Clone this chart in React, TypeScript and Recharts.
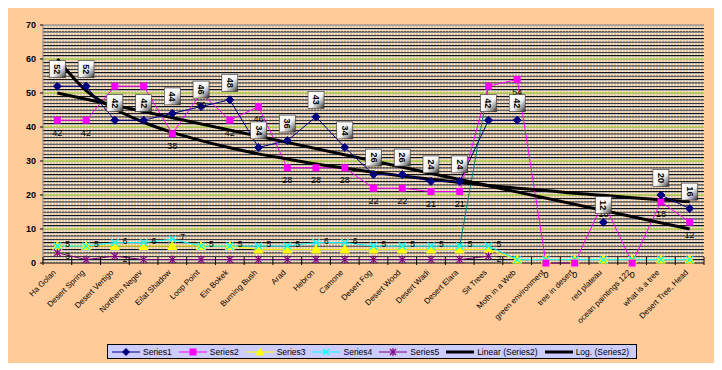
import { LineChart, Line, XAxis, YAxis, CartesianGrid, ReferenceLine, LabelList } from 'recharts';

const categories = [
  'Ha Golan', 'Desert Spring', 'Desert Vertigo', 'Northern Negev', 'Eilat Shadow', 'Loop Point',
  'Ein Bokek', 'Burning Bush', 'Arad', 'Hebron', 'Camone', 'Desert Fog', 'Desert Wood', 'Desert Wadi',
  'Desert Elara', 'Sit Trees', 'Moth in a Web', 'green environment', 'tree in desert', 'red plateau',
  'ocean paintings 122', 'what is a tree', 'Desert Tree, Head',
];

const series1 = [52, 52, 42, 42, 44, 46, 48, 34, 36, 43, 34, 26, 26, 24, 24, 42, 42, null, null, 12, null, 20, 16];
const series2 = [42, 42, 52, 52, 38, 50, 42, 46, 28, 28, 28, 22, 22, 21, 21, 52, 54, 0, 0, 18, 0, 18, 12];
const series3 = [5, 5, 5, 5, 5, 5, 5, 4, 4, 4, 4, 4, 4, 4, 4, 4, 1, 1, 1, 1, 1, 1, 1];
const series4 = [5, 5, 6, 6, 7, 5, 5, 5, 5, 6, 6, 5, 5, 5, 5, 5, 1, 1, 1, 1, 1, 1, 1];
const series5 = [3, 1, 2, 1, 1, 1, 1, 1, 1, 1, 1, 1, 1, 1, 1, 2, null, null, null, null, null, null, null];
// teal segment running up to the Sit Trees point
const tealSegment = [null, null, null, null, null, null, null, null, null, null, null, null, null, null, 5, 52, null, null, null, null, null, null, null];
// trendlines of Series2
const linearTrend = [50, null, null, null, null, null, null, null, null, null, null, null, null, null, null, null, null, null, null, null, null, null, 10];
const logTrend = [60, 50.7, 45.3, 41.4, 38.4, 36, 33.9, 32.1, 30.6, 29.1, 27.9, 26.7, 25.6, 24.6, 23.7, 22.8, 22, 21.3, 20.5, 19.9, 19.2, 18.6, 18];

const yTicks = [0, 10, 20, 30, 40, 50, 60, 70];

const data = categories.map((name, i) => ({
  name,
  s1: series1[i],
  s2: series2[i],
  s3: series3[i],
  s4: series4[i],
  s5: series5[i],
  teal: tealSegment[i],
  lin: linearTrend[i],
  log: logTrend[i],
}));

const minorLines: number[] = [];
const dotLines: number[] = [];
for (let v = 1; v < 70; v++) {
  if (v % 10 !== 0) minorLines.push(v);
}
for (let v = 0; v < 70; v++) dotLines.push(v + 0.35);

const FONT = '"Liberation Sans", Arial, sans-serif';

const ok = (p: any) => p.cx != null && p.cy != null && p.value != null && !Number.isNaN(p.cy);

const Diamond = (p: any) =>
  ok(p) ? <polygon key={p.key} points={`${p.cx},${p.cy - 4} ${p.cx + 4},${p.cy} ${p.cx},${p.cy + 4} ${p.cx - 4},${p.cy}`} fill="#000080" stroke="#000080" /> : <g key={p.key} />;
const Square = (p: any) =>
  ok(p) ? <rect key={p.key} x={p.cx - 3.5} y={p.cy - 3.5} width={7} height={7} fill="#FF00FF" /> : <g key={p.key} />;
const Triangle = (p: any) =>
  ok(p) ? <polygon key={p.key} points={`${p.cx},${p.cy - 4.5} ${p.cx + 4.5},${p.cy + 3.5} ${p.cx - 4.5},${p.cy + 3.5}`} fill="#FFFF00" stroke="#FFFF00" /> : <g key={p.key} />;
const Cross = (p: any) =>
  ok(p) ? (
    <g key={p.key} stroke="#00FFFF" strokeWidth={1.2}>
      <line x1={p.cx - 3.5} y1={p.cy - 3.5} x2={p.cx + 3.5} y2={p.cy + 3.5} />
      <line x1={p.cx - 3.5} y1={p.cy + 3.5} x2={p.cx + 3.5} y2={p.cy - 3.5} />
    </g>
  ) : <g key={p.key} />;
const Star = (p: any) =>
  ok(p) ? (
    <g key={p.key} stroke="#800080" strokeWidth={1.2}>
      <line x1={p.cx - 3.5} y1={p.cy - 3.5} x2={p.cx + 3.5} y2={p.cy + 3.5} />
      <line x1={p.cx - 3.5} y1={p.cy + 3.5} x2={p.cx + 3.5} y2={p.cy - 3.5} />
      <line x1={p.cx} y1={p.cy - 4} x2={p.cx} y2={p.cy + 4} />
    </g>
  ) : <g key={p.key} />;

const BoxLabel = (p: any) => {
  if (p.value == null) return null;
  const cx = p.x;
  const cy = p.y - 17;
  return (
    <g>
      <rect x={cx - 8} y={cy - 8.5} width={16} height={17} fill="url(#boxShade)" stroke="#303030" strokeWidth={0.6} />
      <text x={cx} y={cy} transform={`rotate(90, ${cx}, ${cy})`} textAnchor="middle" dominantBaseline="central" fontSize={9} fontWeight="bold" fontFamily={FONT} fill="#000">
        {p.value}
      </text>
    </g>
  );
};

// small side labels, only for values above 1 (the 1s vanish under the lines)
const sideLabel = (shift: number) => (p: any) => {
  if (p.value == null || p.value <= 1) return null;
  return (
    <text x={p.x + 8} y={p.y + shift} dominantBaseline="central" fontSize={8.5} fontFamily={FONT} fill="#000">
      {p.value}
    </text>
  );
};

const CatTick = (p: any) => {
  const half = p.width / p.visibleTicksCount / 2;
  const ax = p.x - 1;
  const ay = p.y + 10;
  return (
    <g>
      <line x1={p.x - half} y1={p.y - 6} x2={p.x - half} y2={p.y + 2} stroke="#000" />
      {p.index === p.visibleTicksCount - 1 && <line x1={p.x + half} y1={p.y - 6} x2={p.x + half} y2={p.y + 2} stroke="#000" />}
      <text x={ax} y={ay} transform={`rotate(-45, ${ax}, ${ay})`} textAnchor="end" fontSize={8} fontFamily={FONT} fill="#000">
        {p.payload.value}
      </text>
    </g>
  );
};

const legendItems = [
  { name: 'Series1', color: '#000080', mark: 'diamond' },
  { name: 'Series2', color: '#FF00FF', mark: 'square' },
  { name: 'Series3', color: '#FFFF00', mark: 'triangle' },
  { name: 'Series4', color: '#00FFFF', mark: 'cross' },
  { name: 'Series5', color: '#800080', mark: 'star' },
  { name: 'Linear (Series2)', color: '#000000', mark: 'thick' },
  { name: 'Log. (Series2)', color: '#000000', mark: 'thick' },
];

function LegendIcon({ color, mark }: { color: string; mark: string }) {
  const c = 14, m = 5;
  return (
    <svg width={28} height={10} style={{ display: 'block' }}>
      <line x1={0} y1={m} x2={28} y2={m} stroke={color} strokeWidth={mark === 'thick' ? 3 : 1} />
      {mark === 'diamond' && <polygon points={`${c},${m - 4} ${c + 4},${m} ${c},${m + 4} ${c - 4},${m}`} fill={color} />}
      {mark === 'square' && <rect x={c - 3.5} y={m - 3.5} width={7} height={7} fill={color} />}
      {mark === 'triangle' && <polygon points={`${c},${m - 4.5} ${c + 4.5},${m + 3.5} ${c - 4.5},${m + 3.5}`} fill={color} />}
      {(mark === 'cross' || mark === 'star') && (
        <g stroke={color} strokeWidth={1.2}>
          <line x1={c - 3} y1={m - 3} x2={c + 3} y2={m + 3} />
          <line x1={c - 3} y1={m + 3} x2={c + 3} y2={m - 3} />
          {mark === 'star' && <line x1={c} y1={m - 4} x2={c} y2={m + 4} />}
        </g>
      )}
    </svg>
  );
}

export default function App() {
  return (
    <div style={{ position: 'relative', width: 708, height: 356, background: '#FFCC99', margin: '-1px 0 0 -1px', fontFamily: FONT }}>
      <LineChart width={708} height={356} data={data} margin={{ top: 18, right: 11, left: 6, bottom: 0 }}>
        <defs>
          <linearGradient id="boxShade" x1="0" y1="0" x2="1" y2="1">
            <stop offset="0%" stopColor="#FFFFFF" />
            <stop offset="55%" stopColor="#F4F4F4" />
            <stop offset="80%" stopColor="#909090" />
            <stop offset="100%" stopColor="#202020" />
          </linearGradient>
        </defs>
        <CartesianGrid fill="#C0C0C0" stroke="#000" vertical={false} horizontalValues={minorLines} />
        <CartesianGrid stroke="#FFCC99" strokeWidth={1.3} vertical={false} horizontalValues={dotLines} />
        <CartesianGrid stroke="#FFFFFF" strokeWidth={1.3} strokeDasharray="1 2" vertical={false} horizontalValues={dotLines} />
        {[10, 20, 30, 40, 50, 60].map(v => (
          <ReferenceLine key={v} y={v} stroke="#99CC00" />
        ))}
        <ReferenceLine y={70} stroke="#808080" />
        <XAxis dataKey="name" scale="band" interval={0} height={100} tickSize={0} tickMargin={0} tickLine={false} axisLine={{ stroke: '#000' }} tick={<CatTick />} />
        <YAxis domain={[0, 70]} ticks={yTicks} interval={0} width={30} tickSize={3} tickMargin={4} axisLine={{ stroke: '#808080' }} tickLine={{ stroke: '#000' }} tick={{ fontSize: 9, fontWeight: 'bold', fill: '#000', fontFamily: FONT }} />
        <YAxis yAxisId="r" orientation="right" domain={[0, 70]} width={0} tick={false} tickLine={false} axisLine={{ stroke: '#808080' }} />

        <Line dataKey="s3" stroke="#FFFF00" strokeWidth={1} dot={Triangle} activeDot={false} isAnimationActive={false} />
        <Line dataKey="s4" stroke="#00FFFF" strokeWidth={1} dot={Cross} activeDot={false} isAnimationActive={false}>
          <LabelList dataKey="s4" content={sideLabel(-2)} />
        </Line>
        <Line dataKey="s5" stroke="#800080" strokeWidth={1} dot={Star} activeDot={false} isAnimationActive={false}>
          <LabelList dataKey="s5" content={sideLabel(3)} />
        </Line>
        <Line dataKey="teal" stroke="#008080" strokeWidth={1} dot={false} activeDot={false} isAnimationActive={false} />
        <Line dataKey="s2" stroke="#FF00FF" strokeWidth={1} dot={Square} activeDot={false} isAnimationActive={false}>
          <LabelList dataKey="s2" position="bottom" offset={9} fontSize={9} fill="#000" fontFamily={FONT} />
        </Line>
        <Line dataKey="lin" stroke="#000" strokeWidth={3} dot={false} activeDot={false} connectNulls isAnimationActive={false} />
        <Line dataKey="log" type="monotone" stroke="#000" strokeWidth={3} dot={false} activeDot={false} isAnimationActive={false} />
        <Line dataKey="s1" stroke="#000080" strokeWidth={1} dot={Diamond} activeDot={false} isAnimationActive={false}>
          <LabelList dataKey="s1" content={BoxLabel} />
        </Line>
      </LineChart>

      <div style={{ position: 'absolute', left: 100, top: 337, width: 530, height: 15, boxSizing: 'border-box', background: '#CCCCFF', border: '1.5px solid #000', display: 'flex', alignItems: 'center', paddingLeft: 4, gap: 7, fontSize: 8.5 }}>
        {legendItems.map(it => (
          <div key={it.name} style={{ display: 'flex', alignItems: 'center', gap: 3 }}>
            <LegendIcon color={it.color} mark={it.mark} />
            <span style={{ whiteSpace: 'nowrap' }}>{it.name}</span>
          </div>
        ))}
      </div>
    </div>
  );
}
